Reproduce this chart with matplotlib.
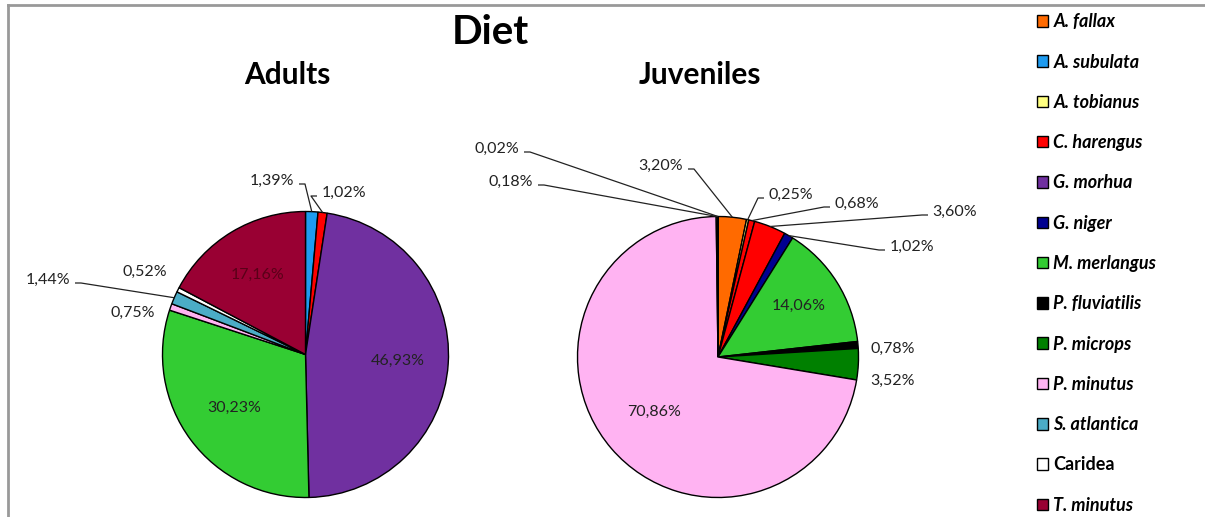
import numpy as np
import matplotlib
matplotlib.use('Agg')
import matplotlib.pyplot as plt
from matplotlib.patches import Patch

plt.rcParams['font.family'] = ['Lato', 'DejaVu Sans']

# prey species, legend order
species = ['A. fallax', 'A. subulata', 'A. tobianus', 'C. harengus', 'G. morhua',
           'G. niger', 'M. merlangus', 'P. fluviatilis', 'P. microps', 'P. minutus',
           'S. atlantica', 'Caridea', 'T. minutus']
colours = ['#ff6a00', '#1e9bf0', '#ffff80', '#ff0000', '#7030a0',
           '#000090', '#33cc33', '#000000', '#008000', '#ffb3f2',
           '#4bacc6', '#ffffff', '#990033']

# diet composition (%), clockwise from 12 o'clock
adult_prey = ['A. subulata', 'C. harengus', 'G. morhua', 'M. merlangus',
              'P. minutus', 'S. atlantica', 'Caridea', 'T. minutus']
adult_pct = [1.39, 1.02, 46.93, 30.23, 0.75, 1.44, 0.52, 17.16]

juv_prey = ['A. fallax', 'A. tobianus', 'C. harengus', 'C. harengus', 'G. niger',
            'M. merlangus', 'P. fluviatilis', 'P. microps', 'P. minutus',
            'S. atlantica', 'Caridea']
juv_pct = [3.20, 0.25, 0.68, 3.60, 1.02, 14.06, 0.78, 3.52, 70.86, 0.18, 0.02]

colour_of = dict(zip(species, colours))

W, H = 1205, 517
fig = plt.figure(figsize=(W / 100, H / 100), dpi=100)
ax = fig.add_axes([0, 0, 1, 1])


def fmt(v):
    return ('%.2f%%' % v).replace('.', ',')


def draw_pie(prey, pct, cx, cy, r, inside, outside):
    wedges, _ = ax.pie(pct, colors=[colour_of[p] for p in prey], startangle=90,
                       counterclock=False, center=(cx, cy), radius=r,
                       wedgeprops=dict(edgecolor='black', linewidth=1.0))
    for i, w in enumerate(wedges):
        mid = np.deg2rad((w.theta1 + w.theta2) / 2)
        if i in inside:
            f, col = inside[i]
            ax.text(cx + f * r * np.cos(mid), cy + f * r * np.sin(mid), fmt(pct[i]),
                    ha='center', va='center', fontsize=11.5, color=col)
        elif i in outside:
            tx, ty, side, leader = outside[i]
            ty = H - ty
            ax.text(tx, ty, fmt(pct[i]), ha='center', va='center', fontsize=11.5,
                    color='#222222')
            if leader:
                ex, ey = cx + r * np.cos(mid), cy + r * np.sin(mid)
                sx = tx + side * 27
                ax.plot([sx, sx + side * 6, ex], [ty - 3, ty - 3, ey],
                        color='#222222', lw=0.9, solid_capstyle='butt')


# label layout: slice index -> (x, y, side of stub, draw leader)
adult_out = {0: (272, 181, 1, True), 1: (344, 193, -1, True),
             4: (133, 313, 1, False), 5: (48, 280, 1, True),
             6: (145, 272, 1, False)}
adult_in = {2: (0.65, '#222222'), 3: (0.62, '#222222'), 7: (0.65, '#5a0018')}

juv_out = {0: (661, 166, 1, True), 1: (791, 195, -1, True),
           2: (857, 204, -1, True), 3: (955, 212, -1, True),
           4: (912, 247, -1, True), 6: (893, 349, 1, False),
           7: (893, 381, 1, False), 9: (511, 182, 1, True),
           10: (497, 149, 1, True)}
juv_in = {5: (0.68, '#222222'), 8: (0.6, '#222222')}

draw_pie(adult_prey, adult_pct, 305.5, H - 354.5, 143, adult_in, adult_out)
draw_pie(juv_prey, juv_pct, 718, H - 357, 140.5, juv_in, juv_out)

ax.set_xlim(0, W)
ax.set_ylim(0, H)
ax.set_aspect('auto')
ax.axis('off')

# frame edges
ax.plot([7.5, W], [H - 5, H - 5], color='#999999', lw=2)
ax.plot([7.5, 7.5], [0, H - 5], color='#999999', lw=2)

ax.text(490, H - 33, 'Diet', ha='center', va='center', fontsize=29, fontweight='bold')
ax.text(287, H - 75, 'Adults', ha='center', va='center', fontsize=21.5, fontweight='bold')
ax.text(700, H - 75, 'Juveniles', ha='center', va='center', fontsize=21.5, fontweight='bold')

handles = [Patch(facecolor=c, edgecolor='black', linewidth=1.0) for c in colours]
leg = ax.legend(handles, species, loc='upper left', bbox_to_anchor=(1030 / W, 1 - 6 / H),
                frameon=False, fontsize=13, handlelength=0.6, handleheight=0.6,
                handletextpad=0.3, labelspacing=1.29, borderaxespad=0)
for t in leg.get_texts():
    t.set_fontweight('bold')
    t.set_style('normal' if t.get_text() == 'Caridea' else 'italic')

fig.savefig('out.png', dpi=100)
